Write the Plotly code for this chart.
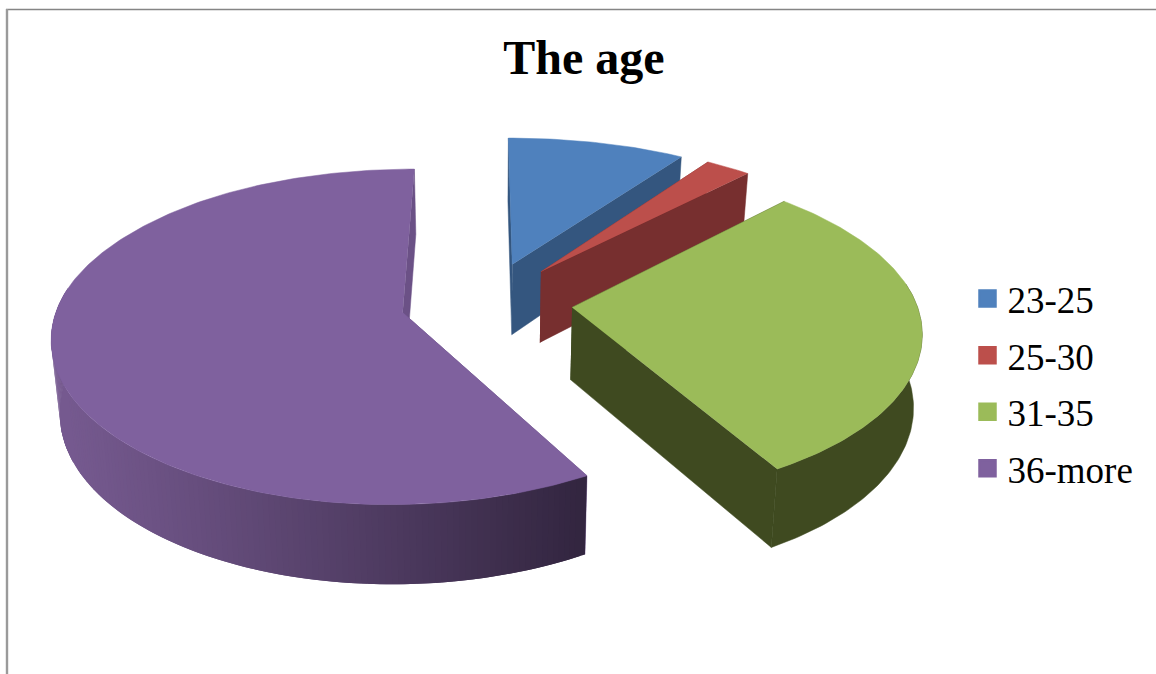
import numpy as np
import plotly.graph_objects as go

# Share of respondents per age band
categories = ["23-25", "25-30", "31-35", "36-more"]
values = [10.0, 2.5, 29.2, 58.3]
top_colors = ["#4f81bd", "#bc4f4b", "#9bbb59", "#7f619e"]
wall_colors = ["#34567f", "#772f2f", "#3f4a20", "#6b5186"]

# Projection of the tilted, exploded pie onto the page
CX, CY = 486.5, 302.0
RX, RY = 344.0, 163.0
EXPLODE = 0.25
THICK, THICK_PERSP = 72.0, 0.10
BASE_SHRINK = 0.98

# Shading of the large slice's rim, left to right
RIM_LEFT = np.array([0x76, 0x5a, 0x90])
RIM_RIGHT = np.array([0x32, 0x25, 0x3f])


def project(px, py, base=False):
    """Map disc coordinates (unit radius, py towards the back) to page coordinates."""
    px, py = np.asarray(px, float), np.asarray(py, float)
    far = np.clip(py, 0, None)
    sx = CX + RX * px / (1 + 0.13 * py + 0.035 * far ** 2)
    sy = CY - RY * py / (1 + 0.135 * py) + 22 * np.clip(py - 0.6, 0, None) ** 2
    if base:
        sx = CX + (sx - CX) * BASE_SHRINK
        sy = sy + THICK * (1 - THICK_PERSP * py)
    return sx, sy


def polygon(x, y, color, edge=0.5):
    return go.Scatter(
        x=list(x), y=list(y), mode="lines", fill="toself", fillcolor=color,
        line=dict(color=color, width=edge), hoverinfo="skip", showlegend=False,
    )


def hexcolor(rgb):
    return "#%02x%02x%02x" % tuple(int(round(c)) for c in rgb)


fig = go.Figure()
total = sum(values)
start = 0.0
for name, value, top, wall in zip(categories, values, top_colors, wall_colors):
    sweep = 2 * np.pi * value / total
    mid = start + sweep / 2
    ox, oy = EXPLODE * np.sin(mid), EXPLODE * np.cos(mid)
    angles = np.linspace(start, start + sweep, max(int(value * 4), 16))
    rim_x = ox + np.sin(angles)
    rim_y = oy + np.cos(angles)

    # Flat cut faces sit behind everything else of the slice
    for ex, ey in ((rim_x[0], rim_y[0]), (rim_x[-1], rim_y[-1])):
        tx, ty = project([ox, ex], [oy, ey])
        bx, by = project([ox, ex], [oy, ey], base=True)
        fig.add_trace(polygon(np.r_[tx, bx[::-1]], np.r_[ty, by[::-1]], wall))

    # Outer rim: only the part facing the viewer, split into strips on the big slice
    front = np.cos(angles) < 0.15
    tx, ty = project(rim_x, rim_y)
    bx, by = project(rim_x, rim_y, base=True)
    if name == "36-more":
        idx = np.flatnonzero(front)
        idx = idx[np.argsort(tx[idx])]
        for i, j in zip(idx[:-1], idx[2:]):
            t = np.clip((tx[i] - 55) / (582 - 55), 0, 1) ** 1.1
            color = hexcolor(RIM_LEFT + (RIM_RIGHT - RIM_LEFT) * t)
            k = sorted((i, j))
            seg = np.arange(k[0], k[1] + 1)
            fig.add_trace(polygon(
                np.r_[tx[seg], bx[seg][::-1]], np.r_[ty[seg], by[seg][::-1]], color, edge=0,
            ))
    elif front.any():
        fig.add_trace(polygon(
            np.r_[tx[front], bx[front][::-1]], np.r_[ty[front], by[front][::-1]], wall,
        ))

    # Top face
    ax, ay = project([ox], [oy])
    fig.add_trace(polygon(np.r_[ax, tx], np.r_[ay, ty], top))
    start += sweep

# Legend entries: one group per band so the row gap can be widened
for name, top in zip(categories, top_colors):
    fig.add_trace(go.Scatter(
        x=[None], y=[None], mode="markers", name=name, legendgroup=name,
        marker=dict(symbol="square", size=16, color=top, line=dict(color=top, width=2.5)),
    ))

fig.update_layout(
    width=1156, height=674,
    margin=dict(l=0, r=0, t=0, b=0),
    paper_bgcolor="white", plot_bgcolor="white",
    xaxis=dict(range=[0, 1156], visible=False, fixedrange=True),
    yaxis=dict(range=[674, 0], visible=False, fixedrange=True),
    title=dict(
        text="The age", x=584 / 1156, xanchor="center", y=1 - 57 / 674, yanchor="middle",
        font=dict(family="Liberation Serif", size=48, color="black", weight="bold"),
    ),
    legend=dict(
        x=967.5 / 1156, xanchor="left", y=1 - 268 / 674, yanchor="top",
        font=dict(family="Liberation Serif", size=37, color="black"),
        tracegroupgap=5.5, bgcolor="rgba(0,0,0,0)", traceorder="grouped",
    ),
    shapes=[
        dict(type="line", xref="x", yref="y", x0=6, x1=1156, y0=9.5, y1=9.5,
             line=dict(color="#858585", width=1.6)),
        dict(type="line", xref="x", yref="y", x0=7, x1=7, y0=9, y1=674,
             line=dict(color="#9a9a9a", width=2.4)),
    ],
)

fig.write_html("out.html")
